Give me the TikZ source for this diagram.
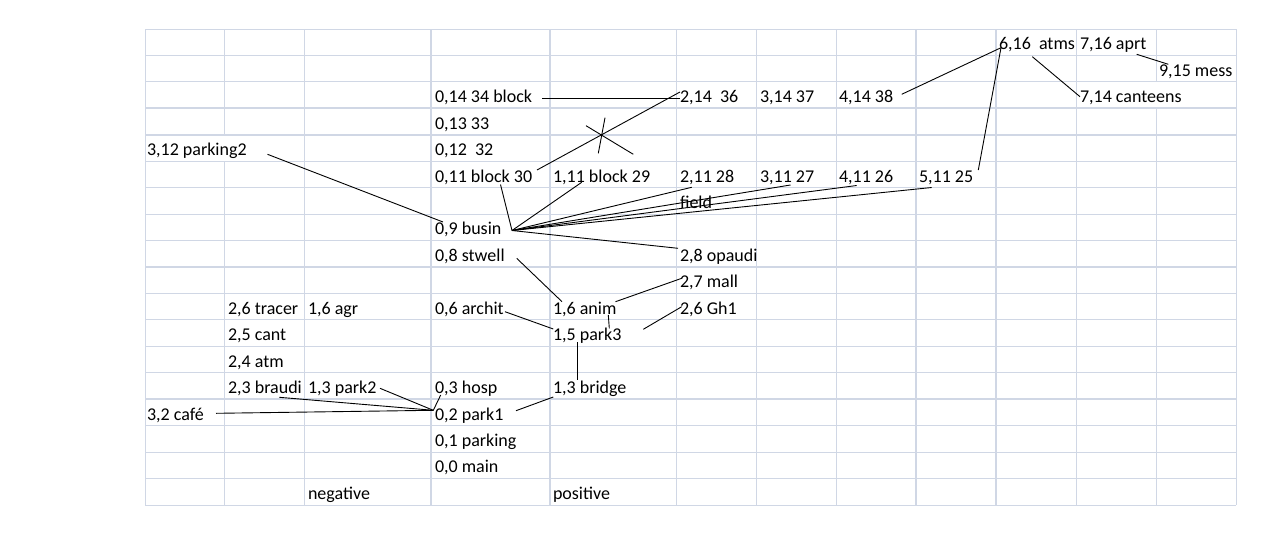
\documentclass[tikz,border=0pt]{standalone}
\usepackage{fontspec}
\setmainfont{Carlito}
\definecolor{gridc}{HTML}{D0D7E5}
\begin{document}
\begin{tikzpicture}[x=1pt,y=-1pt,
  gridthin/.style={draw=gridc,line width=1pt},
  gridthick/.style={draw=gridc,line width=2pt},
  lbl/.style={anchor=base west,inner sep=0pt,outer sep=0pt,font=\fontsize{18}{20}\selectfont,text=black},
  conn/.style={draw=black,line width=0.9pt}]
\useasboundingbox (0,0) rectangle (1284,536);
\fill[white] (0,0) rectangle (1284,536);
% grid
\foreach \i in {0,1,2,5,6,7,8,10,11,12,13,15,16,17,18}
  \draw[gridthin] (145,{29+26.444*\i}) -- (1236,{29+26.444*\i});
\foreach \i in {3,4,9,14}
  \draw[gridthick] (145,{29+26.444*\i}) -- (1236,{29+26.444*\i});
\foreach \x in {145,304.4,676,756,836,1076.5,1236}
  \draw[gridthin] (\x,29) -- (\x,505);
\draw[gridthin] (224.4,29) -- (224.4,134.8) (224.4,161.2) -- (224.4,505);
\draw[gridthin] (1156.5,29) -- (1156.5,81.9) (1156.5,108.3) -- (1156.5,505);
\foreach \x in {431,550,916,996}
  \draw[gridthick] (\x,29) -- (\x,505);
% labels
\node[lbl] (a616) at (999,49.7) {6,16\ \ atms};
\node[lbl] (a716) at (1080,49.7) {7,16 aprt};
\node[lbl] (a915) at (1159,76.2) {9,15 mess};
\node[lbl] (a014) at (435,102.6) {0,14 34 block};
\node[lbl] (a214) at (680,102.6) {2,14\ \ 36};
\node[lbl] (a314) at (760,102.6) {3,14 37};
\node[lbl] (a414) at (839,102.6) {4,14 38};
\node[lbl] (a714) at (1080,102.6) {7,14 canteens};
\node[lbl] (a013) at (435,129.1) {0,13 33};
\node[lbl] (a312) at (147,155.5) {3,12 parking2};
\node[lbl] (a012) at (435,155.5) {0,12\ \ 32};
\node[lbl] (a011) at (435,182) {0,11 block 30};
\node[lbl] (a111) at (553,182) {1,11 block 29};
\node[lbl] (a211) at (680,182) {2,11 28};
\node[lbl] (a311) at (760,182) {3,11 27};
\node[lbl] (a411) at (839,182) {4,11 26};
\node[lbl] (a511) at (919,182) {5,11 25};
\node[lbl] (field) at (680,208.4) {field};
\node[lbl] (a09) at (435,234.9) {0,9 busin};
\node[lbl] (a08) at (435,261.3) {0,8 stwell};
\node[lbl] (a28) at (680,261.3) {2,8 opaudi};
\node[lbl] (a27) at (680,287.7) {2,7 mall};
\node[lbl] (a26t) at (228,314.2) {2,6 tracer};
\node[lbl] (a16a) at (308,314.2) {1,6 agr};
\node[lbl] (a06) at (435,314.2) {0,6 archit};
\node[lbl] (a16n) at (553,314.2) {1,6 anim};
\node[lbl] (a26g) at (680,314.2) {2,6 Gh1};
\node[lbl] (a25) at (228,340.6) {2,5 cant};
\node[lbl] (a15) at (553,340.6) {1,5 park3};
\node[lbl] (a24) at (228,367.1) {2,4 atm};
\node[lbl] (a23) at (228,393.5) {2,3 braudi};
\node[lbl] (a13p) at (308,393.5) {1,3 park2};
\node[lbl] (a03) at (435,393.5) {0,3 hosp};
\node[lbl] (a13b) at (553,393.5) {1,3 bridge};
\node[lbl] (a32) at (147,420) {3,2 café};
\node[lbl] (a02) at (435,420) {0,2 park1};
\node[lbl] (a01) at (435,446.4) {0,1 parking};
\node[lbl] (a00) at (435,472.9) {0,0 main};
\node[lbl] (neg) at (308,499.3) {negative};
\node[lbl] (pos) at (553,499.3) {positive};
% connector end points
\coordinate (e014) at (542,98);
\coordinate (w214) at (680,98);
\coordinate (s214) at (680,92);
\coordinate (e011) at (537,170);
\coordinate (sa1) at (586,125.7);
\coordinate (sa2) at (633.3,154.3);
\coordinate (sb1) at (605,117.7);
\coordinate (sb2) at (598.3,153.3);
\coordinate (e312) at (267.5,154.3);
\coordinate (w09) at (443,222);
\coordinate (b011) at (500.5,184.5);
\coordinate (hub) at (512,230.5);
\coordinate (b111) at (581.7,182.3);
\coordinate (b211) at (691.7,187.3);
\coordinate (b311) at (790.5,185);
\coordinate (b411) at (856.7,185.5);
\coordinate (b511) at (931.7,187.5);
\coordinate (w28) at (678,248.3);
\coordinate (e08) at (516.7,258.3);
\coordinate (t16n) at (562,301.7);
\coordinate (u16n) at (615.5,301.7);
\coordinate (w27) at (681.7,278.3);
\coordinate (e06) at (505,311.7);
\coordinate (w15) at (553.3,329);
\coordinate (v16n) at (608.3,315);
\coordinate (t15) at (609.3,328.3);
\coordinate (w26g) at (681.7,306.7);
\coordinate (r15) at (643.3,329.3);
\coordinate (b15) at (577.3,342);
\coordinate (t13b) at (577.3,380);
\coordinate (w13b) at (553.3,397);
\coordinate (e02) at (516,410.7);
\coordinate (b03) at (440.7,395);
\coordinate (p1hub) at (433.3,410.3);
\coordinate (e13p) at (380,388.3);
\coordinate (b23) at (279.3,397.3);
\coordinate (e32) at (216,413.3);
\coordinate (e414) at (901.7,94.3);
\coordinate (w616) at (1001,47.7);
\coordinate (t511) at (978.3,170);
\coordinate (b616) at (1032.3,56.7);
\coordinate (w714) at (1080,96.7);
\coordinate (e716) at (1136.7,54.3);
\coordinate (w915) at (1168.3,64.3);
% connectors
\draw[conn] (e014) -- (w214);
\draw[conn] (s214) -- (e011);
\draw[conn] (sa1) -- (sa2);
\draw[conn] (sb1) -- (sb2);
\draw[conn] (e312) -- (w09);
\draw[conn] (b011) -- (hub);
\draw[conn] (b111) -- (hub);
\draw[conn] (hub) -- (b211);
\draw[conn] (hub) -- (b311);
\draw[conn] (hub) -- (b411);
\draw[conn] (hub) -- (b511);
\draw[conn] (hub) -- (w28);
\draw[conn] (e08) -- (t16n);
\draw[conn] (u16n) -- (w27);
\draw[conn] (e06) -- (w15);
\draw[conn] (v16n) -- (t15);
\draw[conn] (w26g) -- (r15);
\draw[conn] (b15) -- (t13b);
\draw[conn] (w13b) -- (e02);
\draw[conn] (b03) -- (p1hub);
\draw[conn] (e13p) -- (p1hub);
\draw[conn] (b23) -- (p1hub);
\draw[conn] (e32) -- (p1hub);
\draw[conn] (e414) -- (w616);
\draw[conn] (t511) -- (w616);
\draw[conn] (b616) -- (w714);
\draw[conn] (e716) -- (w915);
\end{tikzpicture}
\end{document}
